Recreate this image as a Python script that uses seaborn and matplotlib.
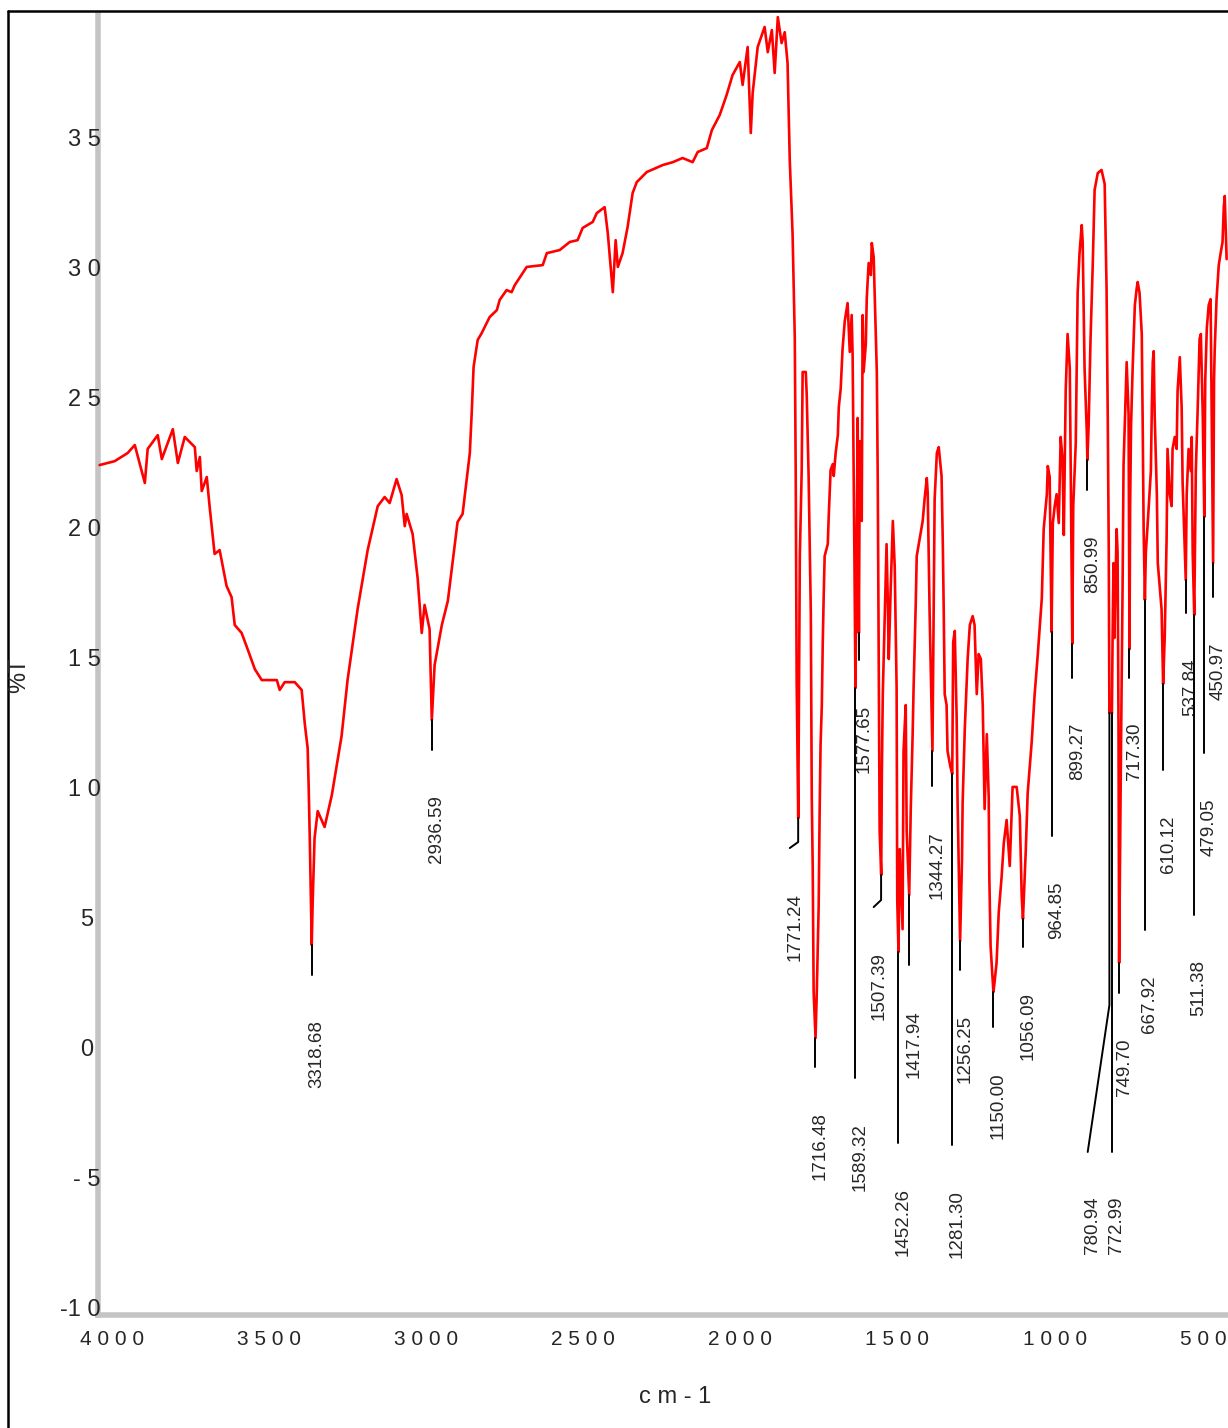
import matplotlib
matplotlib.use('Agg')
import matplotlib.pyplot as plt
import matplotlib.transforms as mtransforms
from matplotlib.lines import Line2D
import seaborn as sns
import pandas as pd

# IR spectrum (wavenumber in cm-1, %T)
wavenumber = [
    3994, 3946, 3905, 3882, 3850, 3841, 3809, 3796, 3761, 3745, 3723, 3691, 3685, 3675,
    3669, 3653, 3644, 3628, 3612, 3590, 3574, 3564, 3542, 3523, 3500, 3478, 3430, 3421,
    3405, 3373, 3351, 3341, 3332, 3329, 3325, 3319, 3316, 3310, 3300, 3278, 3255, 3224,
    3205, 3173, 3141, 3109, 3087, 3071, 3049, 3033, 3023, 3017, 2998, 2982, 2969, 2960,
    2944, 2937, 2928, 2905, 2886, 2855, 2839, 2826, 2816, 2810, 2804, 2791, 2778, 2753,
    2730, 2721, 2699, 2683, 2673, 2635, 2584, 2571, 2530, 2498, 2473, 2457, 2425, 2412,
    2387, 2377, 2361, 2352, 2345, 2330, 2314, 2298, 2285, 2253, 2202, 2170, 2139, 2107,
    2091, 2062, 2046, 2021, 1999, 1980, 1957, 1948, 1932, 1922, 1916, 1900, 1878, 1868,
    1855, 1846, 1836, 1824, 1814, 1805, 1798, 1789, 1782, 1779, 1776, 1771, 1766, 1760,
    1757, 1747, 1744, 1738, 1731, 1728, 1725, 1722, 1716, 1712, 1706, 1703, 1700, 1696,
    1693, 1690, 1687, 1677, 1674, 1668, 1661, 1658, 1652, 1645, 1642, 1636, 1630, 1623,
    1614, 1607, 1601, 1598, 1592, 1589, 1585, 1582, 1578, 1575, 1569, 1566, 1563, 1556,
    1553, 1547, 1540, 1537, 1531, 1528, 1521, 1518, 1515, 1512, 1507, 1505, 1502, 1496,
    1490, 1486, 1483, 1477, 1470, 1464, 1458, 1456, 1452, 1448, 1439, 1436, 1429, 1426,
    1418, 1413, 1407, 1404, 1397, 1394, 1385, 1375, 1369, 1362, 1359, 1353, 1344, 1341,
    1337, 1330, 1324, 1315, 1311, 1308, 1305, 1299, 1296, 1287, 1281, 1278, 1273, 1267,
    1264, 1256, 1250, 1248, 1241, 1232, 1225, 1216, 1210, 1203, 1197, 1190, 1184, 1178,
    1171, 1165, 1163, 1159, 1150, 1146, 1140, 1133, 1124, 1117, 1108, 1098, 1089, 1076,
    1066, 1060, 1056, 1047, 1041, 1028, 1019, 1009, 996, 990, 980, 977, 971, 965,
    961, 955, 949, 942, 936, 930, 926, 920, 914, 907, 899, 896, 888, 882,
    876, 869, 866, 860, 853, 851, 847, 841, 834, 828, 818, 806, 796, 790,
    786, 783, 781, 777, 773, 771, 768, 765, 758, 755, 752, 750, 745, 739,
    736, 729, 726, 720, 717, 715, 712, 707, 700, 694, 691, 685, 678, 675,
    672, 668, 665, 659, 649, 646, 643, 640, 637, 630, 627, 621, 615, 610,
    605, 599, 596, 589, 583, 580, 573, 567, 564, 557, 551, 548, 541, 538,
    535, 529, 522, 519, 516, 511, 506, 500, 494, 490, 484, 479, 476, 471,
    465, 459, 451, 448, 446, 440, 433, 427, 421, 417, 414, 408,
]
transmittance = [
    22.50, 22.65, 22.96, 23.27, 21.81, 23.12, 23.65, 22.73, 23.88, 22.58, 23.58, 23.19, 22.27, 22.81,
    21.50, 22.04, 20.92, 19.08, 19.23, 17.85, 17.42, 16.35, 16.04, 15.42, 14.65, 14.23, 14.23, 13.85,
    14.15, 14.15, 13.85, 12.54, 11.62, 10.27, 8.00, 4.04, 5.69, 8.15, 9.19, 8.58, 9.81, 12.08,
    14.23, 16.96, 19.23, 20.92, 21.27, 21.04, 21.96, 21.35, 20.15, 20.62, 19.85, 18.15, 16.04, 17.12,
    16.19, 12.69, 14.81, 16.35, 17.27, 20.31, 20.62, 21.96, 22.96, 24.50, 26.27, 27.31, 27.58, 28.19,
    28.46, 28.85, 29.23, 29.15, 29.42, 30.12, 30.19, 30.65, 30.77, 31.08, 31.15, 31.62, 31.85, 32.19,
    32.42, 31.42, 29.15, 31.15, 30.12, 30.65, 31.65, 32.96, 33.38, 33.77, 34.04, 34.15, 34.31, 34.15,
    34.54, 34.69, 35.38, 35.96, 36.73, 37.50, 38.00, 37.12, 38.58, 35.27, 36.81, 38.58, 39.35, 38.38,
    39.23, 37.58, 39.73, 38.73, 39.15, 37.96, 34.23, 31.38, 27.38, 22.08, 14.15, 8.92, 19.00, 22.31,
    26.08, 26.08, 25.19, 22.08, 16.81, 9.73, 7.08, 2.23, 0.46, 2.23, 5.54, 9.08, 11.73, 13.27,
    15.69, 17.46, 19.00, 19.46, 20.54, 22.31, 22.54, 22.08, 22.96, 23.65, 24.73, 25.42, 26.96, 28.04,
    28.73, 26.85, 28.27, 26.73, 18.58, 13.92, 19.46, 24.31, 16.04, 23.42, 20.35, 28.27, 26.08, 27.15,
    28.92, 30.27, 29.81, 31.04, 30.50, 29.15, 26.08, 21.88, 15.46, 8.42, 6.73, 10.62, 13.69, 16.58,
    19.46, 17.23, 15.04, 17.69, 20.35, 18.58, 13.92, 5.77, 3.77, 7.73, 4.65, 11.50, 13.27, 8.42,
    5.96, 9.27, 12.15, 13.92, 17.23, 19.00, 19.65, 20.35, 21.19, 22.00, 21.42, 16.81, 11.50, 15.46,
    21.19, 22.96, 23.19, 22.08, 19.46, 16.81, 13.69, 13.27, 11.50, 10.90, 10.62, 15.69, 16.12, 12.81,
    9.50, 4.19, 7.31, 9.50, 12.38, 15.04, 16.35, 16.69, 16.35, 13.69, 15.23, 15.04, 13.27, 9.27,
    12.15, 9.73, 6.65, 4.00, 2.23, 2.65, 3.35, 5.31, 6.65, 7.96, 8.85, 7.08, 10.12, 10.12,
    9.00, 5.92, 5.04, 7.69, 9.88, 11.88, 13.65, 15.19, 17.38, 20.04, 21.38, 22.46, 22.04, 16.08,
    20.27, 20.92, 21.38, 20.27, 23.58, 22.69, 19.81, 25.35, 27.54, 26.23, 15.62, 20.92, 23.35, 29.12,
    30.65, 31.73, 31.08, 26.23, 23.81, 22.69, 24.04, 27.35, 30.19, 33.08, 33.73, 33.85, 33.31, 29.31,
    24.04, 19.15, 12.96, 13.30, 12.96, 15.62, 18.73, 15.85, 20.04, 19.15, 12.54, 3.35, 10.35, 17.85,
    22.46, 25.35, 26.46, 24.46, 15.42, 20.92, 24.04, 26.23, 28.65, 29.31, 29.54, 29.12, 27.54, 24.04,
    20.00, 17.31, 19.15, 20.27, 22.27, 24.69, 26.46, 26.88, 24.46, 21.38, 18.73, 17.85, 16.96, 14.08,
    15.85, 19.62, 23.12, 21.38, 20.92, 23.12, 23.58, 23.12, 25.35, 26.65, 24.69, 21.81, 19.15, 18.08,
    21.38, 23.12, 22.27, 23.58, 19.15, 16.73, 22.27, 24.69, 27.35, 27.54, 24.46, 20.50, 25.77, 27.77,
    28.65, 28.88, 18.73, 25.77, 26.88, 28.88, 30.19, 30.65, 31.08, 32.42, 32.85, 30.42,
]

# picked peaks: position, label, marker top (spectrum value), marker knee and end
peak_wn = [3318.68, 2936.59, 1771.24, 1716.48, 1589.32, 1577.65, 1507.39, 1452.26, 1417.94,
           1344.27, 1281.30, 1256.25, 1150.00, 1056.09, 964.85, 899.27, 850.99, 780.94,
           772.99, 749.70, 717.30, 667.92, 610.12, 537.84, 511.38, 479.05, 450.97]
peak_label = [f'{w:.2f}' for w in peak_wn]
peak_top = [4.04, 12.69, 8.92, 0.46, 13.92, 16.04, 6.73, 3.77, 5.96,
            11.50, 10.62, 4.19, 2.23, 5.04, 16.08, 15.62, 22.69, 12.96,
            12.96, 3.35, 15.42, 17.31, 14.08, 18.08, 16.73, 20.50, 18.73]
peak_knee = [2.88, 11.54, 8.00, -0.65, -1.08, 15.00, 5.77, -3.58, 3.27,
             10.15, -3.65, 3.08, 0.88, 3.96, 8.23, 14.31, 21.54, 1.73,
             -3.92, 2.19, 14.31, 4.62, 10.77, 16.81, 5.19, 11.42, 17.42]
peak_end_wn = [3318.68, 2936.59, 1798, 1716.48, 1589.32, 1577.65, 1531, 1452.26, 1417.94,
               1344.27, 1281.30, 1256.25, 1150.00, 1056.09, 964.85, 899.27, 850.99, 850,
               772.99, 749.70, 717.30, 667.92, 610.12, 537.84, 511.38, 479.05, 450.97]
peak_end = [2.88, 11.54, 7.77, -0.65, -1.08, 15.00, 5.50, -3.58, 3.27,
            10.15, -3.65, 3.08, 0.88, 3.96, 8.23, 14.31, 21.54, -3.92,
            -3.92, 2.19, 14.31, 4.62, 10.77, 16.81, 5.19, 11.42, 17.42]

x_ticks = [4000, 3500, 3000, 2500, 2000, 1500, 1000, 500]
x_tick_labels = ['4 0 0 0', '3 5 0 0', '3 0 0 0', '2 5 0 0', '2 0 0 0', '1 5 0 0', '1 0 0 0', '5 0 0']
y_ticks = [-10, -5, 0, 5, 10, 15, 20, 25, 30, 35]
y_tick_labels = ['-1 0', '- 5', '0 ', '5 ', '1 0', '1 5', '2 0', '2 5', '3 0', '3 5']

sns.set_style('white')
plt.rcParams['font.family'] = ['Liberation Sans Narrow', 'Liberation Sans', 'DejaVu Sans']

W, H = 1228, 1428
fig = plt.figure(figsize=(W / 100, H / 100), dpi=100)
ax = fig.add_axes([97.7 / W, (H - 1315) / H, 1 - 97.7 / W, 1300 / H])

df = pd.DataFrame({'wn': wavenumber, 'T': transmittance})
sns.lineplot(data=df, x='wn', y='T', sort=False, estimator=None, color='#ff0000',
             linewidth=1.9, ax=ax)

ax.set_xlim(4000, 403.6)
ax.set_ylim(-10.19, 39.81)
ax.set_xlabel('')
ax.set_ylabel('')

for side in ['top', 'right']:
    ax.spines[side].set_visible(False)
for side in ['left', 'bottom']:
    ax.spines[side].set_color('#c4c4c4')
    ax.spines[side].set_linewidth(4)
    ax.spines[side].set_zorder(0.5)

ax.set_xticks(x_ticks)
ax.set_xticks(range(4000, 400, -100), minor=True)
ax.set_yticks(y_ticks)
ax.set_yticks(range(-10, 40), minor=True)
ax.tick_params(axis='x', which='major', direction='inout', length=7, width=1.6,
               color='black', labelbottom=False)
ax.tick_params(axis='x', which='minor', direction='inout', length=3.5, width=1.6,
               color='black')
ax.tick_params(axis='y', which='major', direction='out', length=4, width=1.4,
               color='black', labelleft=False)
ax.tick_params(axis='y', which='minor', direction='inout', length=1.4, width=1.6,
               color='black')

# tick labels, placed the way the instrument software does it
xt = mtransforms.offset_copy(ax.get_xaxis_transform(), fig=fig, x=-18, y=-15, units='dots')
for t, lab in zip(x_ticks, x_tick_labels):
    ax.text(t, 0, lab, transform=xt, ha='left', va='top', fontsize=15, clip_on=False)
yt = mtransforms.offset_copy(ax.get_yaxis_transform(), fig=fig, x=3, y=0, units='dots')
for t, lab in zip(y_ticks, y_tick_labels):
    ax.text(0, t, lab, transform=yt, ha='right', va='center', fontsize=17, clip_on=False)

# peak markers and labels
lt = mtransforms.offset_copy(ax.transData, fig=fig, x=5, y=-45, units='dots')
for w, lab, top, knee, ew, end in zip(peak_wn, peak_label, peak_top, peak_knee,
                                      peak_end_wn, peak_end):
    ax.plot([w, w, ew], [top, knee, end], color='black', linewidth=1.4, zorder=3)
    ax.text(ew, end, lab, transform=lt, rotation=90, ha='center', va='top',
            fontsize=13.5, clip_on=False)

fig.text(675 / W, 1 - 1397 / H, 'c m - 1', ha='center', va='center', fontsize=17)
fig.text(8 / W, 1 - 675 / H, '%T', rotation=90, ha='left', va='center', fontsize=17)

# outer frame
fig.add_artist(Line2D([8 / W, 8 / W], [0, 1 - 11 / H], transform=fig.transFigure,
                      color='black', linewidth=1.8))
fig.add_artist(Line2D([8 / W, 1], [1 - 11 / H, 1 - 11 / H], transform=fig.transFigure,
                      color='black', linewidth=1.8))

fig.savefig('out.png', dpi=100)
plt.close(fig)
